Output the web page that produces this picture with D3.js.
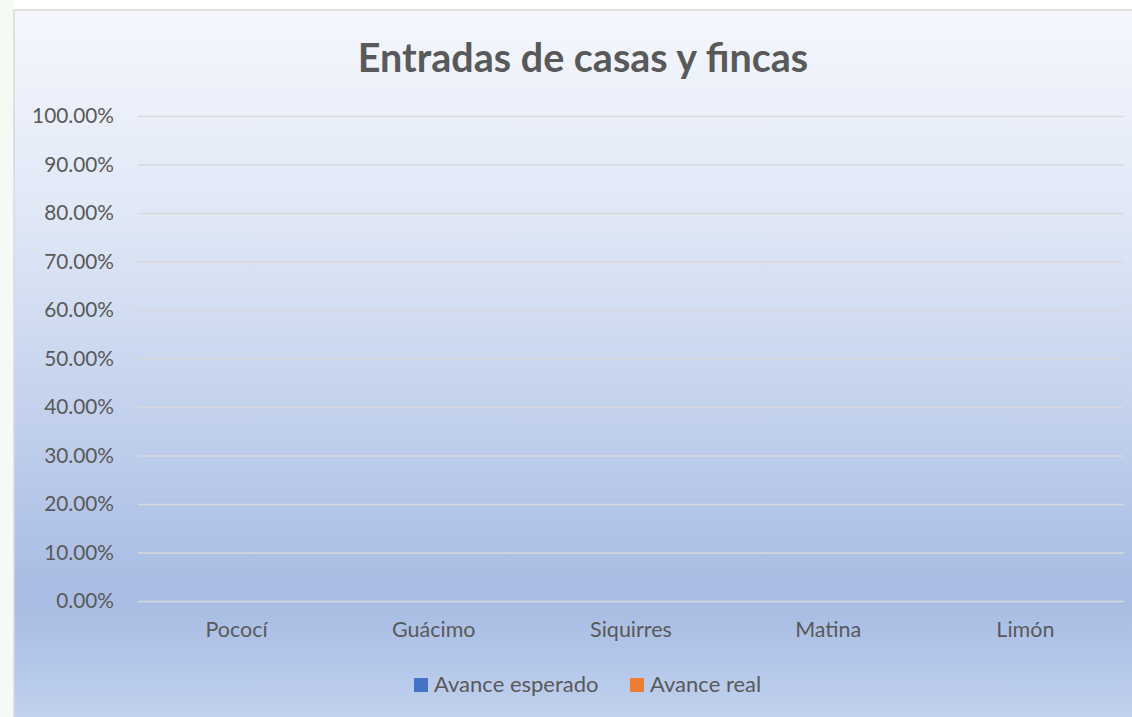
<!DOCTYPE html>
<html>
<head>
<meta charset="utf-8">
<script src="https://cdn.jsdelivr.net/npm/d3@7"></script>
<style>
  body { margin: 0; background: #ffffff; }
  svg { display: block; }
  .tick text { font-family: Lato, "Open Sans", sans-serif; fill: #595959; }
</style>
</head>
<body>
<div id="chart"></div>
<script>
// Data
var categories = ["Pococí", "Guácimo", "Siquirres", "Matina", "Limón"];
var seriesNames = ["Avance esperado", "Avance real"];
var avanceEsperado = [0, 0, 0, 0, 0];
var avanceReal = [0, 0, 0, 0, 0];
var yTicks = [0, 0.1, 0.2, 0.3, 0.4, 0.5, 0.6, 0.7, 0.8, 0.9, 1.0];
var seriesColors = ["#4472c4", "#ed7d31"];

// Parameters
var width = 1132;
var height = 717;
var plotLeft = 138;
var plotRight = 1124;
var plotTop = 116;
var plotBottom = 601;
var labelSize = 20.8;

var svg = d3.select("#chart").append("svg")
    .attr("width", width)
    .attr("height", height);

// faint page tint on the left
svg.append("rect").attr("x", 0).attr("y", 0).attr("width", 14).attr("height", height).attr("fill", "#f6faf4");

// Chart area gradient
var defs = svg.append("defs");
var grad = defs.append("linearGradient").attr("id", "bg").attr("x1", 0).attr("y1", 0).attr("x2", 0).attr("y2", 1);
grad.append("stop").attr("offset", "0%").attr("stop-color", "#f5f7fd");
grad.append("stop").attr("offset", "30%").attr("stop-color", "#dfe7f6");
grad.append("stop").attr("offset", "80%").attr("stop-color", "#a9bde4");
grad.append("stop").attr("offset", "85%").attr("stop-color", "#abbfe5");
grad.append("stop").attr("offset", "100%").attr("stop-color", "#c3d3ef");

svg.append("rect")
    .attr("x", 14).attr("y", 10)
    .attr("width", width - 14 + 2).attr("height", height)
    .attr("fill", "url(#bg)")
    .attr("stroke", "#d9d9d9")
    .attr("stroke-width", 1.5);

// Title
svg.append("text")
    .attr("x", 583).attr("y", 72)
    .attr("text-anchor", "middle")
    .attr("font-family", "Lato, 'Open Sans', sans-serif")
    .attr("font-weight", "bold")
    .attr("font-size", 39.5)
    .attr("fill", "#595959")
    .text("Entradas de casas y fincas");

// Scales
var xScale = d3.scaleBand().domain(categories).range([plotLeft, plotRight]);
var xInner = d3.scaleBand().domain(seriesNames).range([0, xScale.bandwidth()]).paddingInner(0).paddingOuter(1.2);
var yScale = d3.scaleLinear().domain([0, 1]).range([plotBottom, plotTop]);

// Gridlines + y labels
var yAxis = d3.axisLeft(yScale)
    .tickValues(yTicks)
    .tickFormat(function(d){ return (d * 100).toFixed(2) + "%"; })
    .tickSize(-(plotRight - plotLeft))
    .tickPadding(24);

var yG = svg.append("g")
    .attr("transform", "translate(" + plotLeft + ",0)")
    .call(yAxis);
yG.select(".domain").remove();
yG.selectAll(".tick line").attr("stroke", "#d9d9d9").attr("stroke-width", 1.5);
yG.selectAll(".tick text").attr("font-size", labelSize);

// X labels
var xAxis = d3.axisBottom(xScale).tickSize(0).tickPadding(21);
var xG = svg.append("g")
    .attr("transform", "translate(0," + plotBottom + ")")
    .call(xAxis);
xG.select(".domain").remove();
xG.selectAll(".tick text").attr("font-size", 21.5);

// Bars (all values are zero)
var allSeries = [avanceEsperado, avanceReal];
allSeries.forEach(function(values, si){
    svg.append("g").selectAll("rect")
        .data(values)
        .enter().append("rect")
        .attr("x", function(d, i){ return xScale(categories[i]) + xInner(seriesNames[si]); })
        .attr("width", xInner.bandwidth())
        .attr("y", function(d){ return yScale(d); })
        .attr("height", function(d){ return yScale(0) - yScale(d); })
        .attr("fill", seriesColors[si]);
});

// Legend
var legendItems = [
    {name: seriesNames[0], color: seriesColors[0], x: 414},
    {name: seriesNames[1], color: seriesColors[1], x: 630}
];
var legend = svg.append("g");
legendItems.forEach(function(item){
    legend.append("rect")
        .attr("x", item.x).attr("y", 678)
        .attr("width", 14).attr("height", 14)
        .attr("fill", item.color);
    legend.append("text")
        .attr("x", item.x + 20).attr("y", 692)
        .attr("font-family", "Lato, 'Open Sans', sans-serif")
        .attr("font-size", 22)
        .attr("fill", "#595959")
        .text(item.name);
});
</script>
</body>
</html>
